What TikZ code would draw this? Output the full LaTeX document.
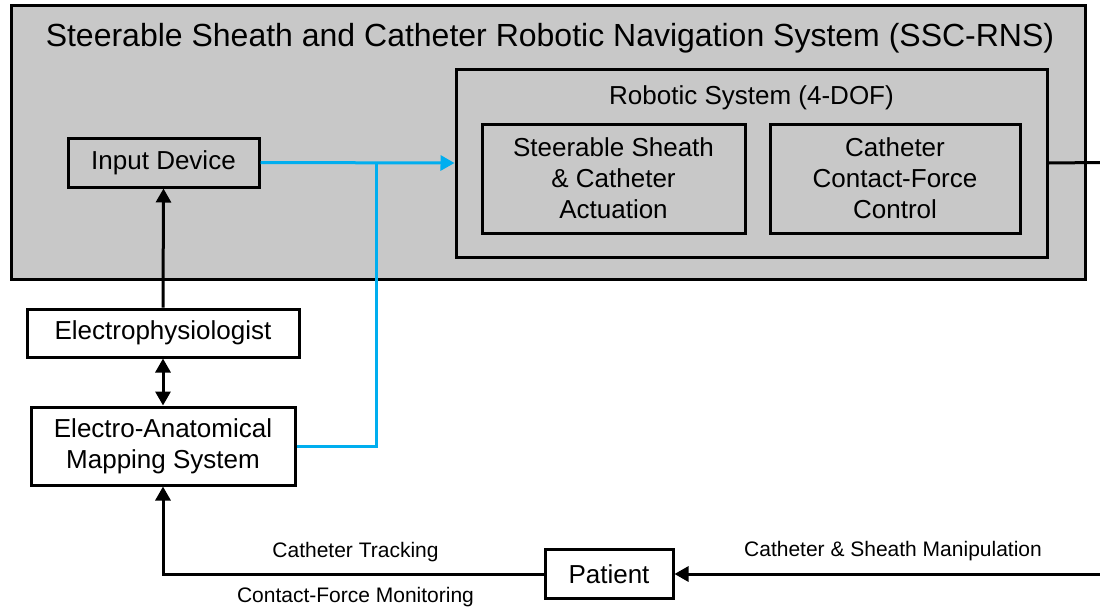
\documentclass[tikz,border=0pt]{standalone}
\usepackage{fontspec}
\setmainfont{Liberation Sans}
\usetikzlibrary{arrows.meta}
\definecolor{panelgray}{RGB}{200,200,200}
\definecolor{linkblue}{RGB}{0,174,239}
\begin{document}
\begin{tikzpicture}[x=1pt,y=-1pt,
  box/.style={draw, line width=3pt, inner sep=0pt, align=center, font=\fontsize{26}{31}\selectfont},
  lbl/.style={inner sep=0pt, font=\fontsize{21}{25}\selectfont},
  tip/.style={-{Triangle[length=14pt,width=15pt]}},
  conn/.style={line width=3pt},
  blueconn/.style={line width=3pt, draw=linkblue}]
\useasboundingbox (0,0) rectangle (1100,611);
% outer system panel
\node[box, fill=panelgray, minimum width=1074pt, minimum height=274pt] (sys) at (548,142) {};
\node[inner sep=0pt, font=\fontsize{32}{38}\selectfont] (title) at (550,38) {Steerable Sheath and Catheter Robotic Navigation System (SSC-RNS)};
% robotic system
\node[box, minimum width=591pt, minimum height=188pt] (robot) at (751.5,163) {};
\node[inner sep=0pt, font=\fontsize{26}{31}\selectfont] (robotlbl) at (751.5,98) {Robotic System (4-DOF)};
\node[box, minimum width=263pt, minimum height=109pt] (act) at (613.5,178.5) {Steerable Sheath\\\& Catheter\\Actuation};
\node[box, minimum width=250pt, minimum height=109pt] (cf) at (895,178.5) {Catheter\\Contact-Force\\Control};
% input device
\node[box, minimum width=191pt, minimum height=49pt] (input) at (163.5,162.5) {Input Device};
% outside
\node[box, fill=white, minimum width=272pt, minimum height=48pt] (ep) at (163,333) {Electrophysiologist};
\node[box, fill=white, minimum width=264pt, minimum height=78pt] (eams) at (163,446) {Electro-Anatomical\\Mapping System};
\node[box, fill=white, minimum width=128pt, minimum height=49pt] (patient) at (609,574) {Patient};
% connectors
\coordinate (j) at (376,162.5);
\coordinate (rr) at (1100,162.5);
\coordinate (rp) at (1100,574);
\draw[blueconn, tip] (input.east) -- (robot.west);
\draw[blueconn] (eams.east) -| (j);
\draw[conn, tip] (ep.north) -- (input.south);
\draw[conn, {Triangle[length=14pt,width=15pt]}-{Triangle[length=14pt,width=15pt]}] (ep.south) -- (eams.north);
\draw[conn] (robot.east) -- (rr);
\draw[conn, tip] (rp) -- (patient.east);
\draw[conn, tip] (patient.west) -| (eams.south);
% labels
\node[lbl] (lt) at (355.5,552) {Catheter Tracking};
\node[lbl] (lm) at (355.5,597) {Contact-Force Monitoring};
\node[lbl] (lc) at (893,551) {Catheter \& Sheath Manipulation};
\end{tikzpicture}
\end{document}
